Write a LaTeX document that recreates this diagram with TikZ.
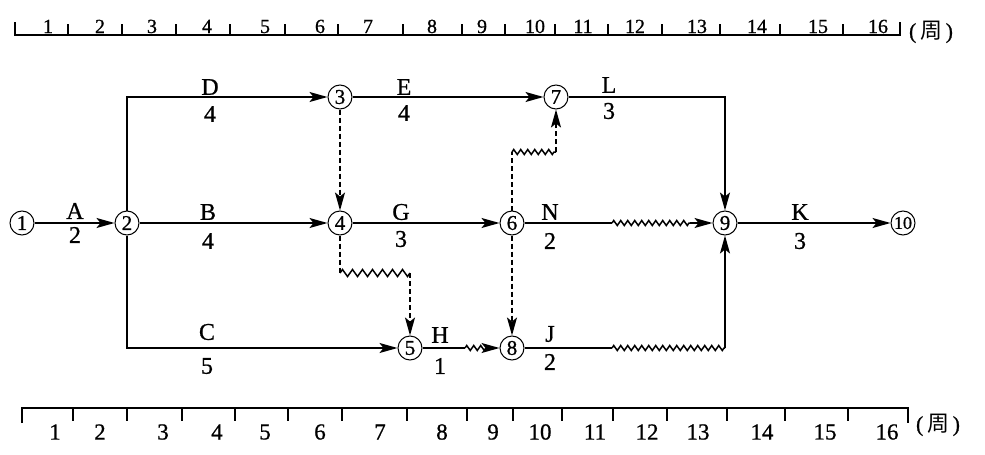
\documentclass[tikz,border=0pt]{standalone}
\usepackage{fontspec}
\setmainfont{Liberation Serif}[FakeBold=0.8]
\newfontfamily\cjk{Noto Sans CJK SC}
\usetikzlibrary{arrows.meta,decorations.pathmorphing}

\begin{document}
\begin{tikzpicture}[x=1pt,y=-1pt,line width=1.5pt,
  ev/.style={circle,draw,line width=1pt,minimum size=24pt,inner sep=0pt,
    font=\fontsize{21}{21}\selectfont},
  act/.style={-{Stealth[length=18pt,width=10pt,inset=4pt]}},
  dum/.style={dash pattern=on 5pt off 3pt},
  wave/.style={decorate,decoration={zigzag,segment length=7pt,amplitude=2.5pt}},
  lag/.style={decorate,decoration={zigzag,segment length=10pt,amplitude=3.5pt}},
  lab/.style={inner sep=0pt,font=\fontsize{24}{24}\selectfont},
  topnum/.style={inner sep=0pt,anchor=base,font=\fontsize{20}{20}\selectfont},
  botnum/.style={inner sep=0pt,font=\fontsize{23}{23}\selectfont},
  unit/.style={inner sep=0pt,font=\fontsize{22}{22}\selectfont},
  ruler/.style={line width=1.3pt}]
\useasboundingbox (0,0) rectangle (985,455);

% time scale above the network
\draw[ruler] (15,22) -- (15,35) -- (900,35) -- (900,22);
\foreach \x in {68,122,176,230,285,338,403,462,505,555,608,662,720,780,843}
  \draw[ruler] (\x,35) -- (\x,24);
\foreach \x [count=\i] in {48,100,152,207,265,320,368,432,482,535,583,635,697,757,818,878}
  \node[topnum] (t\i) at (\x,33) {\i};
\node[unit] (tu) at (931,32) {(\,{\cjk 周}\,)};

% time scale below the network
\draw[ruler] (22,423) -- (22,408) -- (908,408) -- (908,423);
\foreach \x in {73,127,182,235,288,342,407,467,513,562,613,667,727,785,848}
  \draw[ruler] (\x,408) -- (\x,421);
\foreach \x [count=\i] in {55,100,163,217,265,320,380,442,493,540,595,647,698,762,825,887}
  \node[botnum] (b\i) at (\x,432) {\i};
\node[unit] (bu) at (938,425) {(\,{\cjk 周}\,)};

% events
\node[ev] (n1) at (22,223) {1};
\node[ev] (n2) at (127,223) {2};
\node[ev] (n3) at (340,97) {3};
\node[ev] (n4) at (340,223) {4};
\node[ev] (n5) at (410,348) {5};
\node[ev] (n6) at (512,223) {6};
\node[ev] (n7) at (556,97) {7};
\node[ev] (n8) at (512,348) {8};
\node[ev] (n9) at (725,223) {9};
\node[ev,font=\fontsize{18}{18}\selectfont] (n10) at (903,223) {10};

% bends and free-float breaks
\coordinate (w1) at (340,273);
\coordinate (w2) at (410,273);
\coordinate (w3) at (512,152);
\coordinate (w4) at (556,152);
\coordinate (h1) at (465,348);
\coordinate (h2) at (487,348);
\coordinate (q1) at (612,223);
\coordinate (q2) at (690,223);
\coordinate (j1) at (612,348);
\coordinate (j2) at (725,348);

% activities
\draw[act] (n1) -- (n2);
\draw[act] (n2) |- (n3);
\draw[act] (n2) -- (n4);
\draw[act] (n2) |- (n5);
\draw[act] (n3) -- (n7);
\draw[act] (n4) -- (n6);
\draw[act] (n7) -| (n9);
\draw[act] (n9) -- (n10);
\draw (n5) -- (h1);
\draw[wave] (h1) -- (h2);
\draw[act] (h2) -- (n8);
\draw (n6) -- (q1);
\draw[wave] (q1) -- (q2);
\draw[act] (q2) -- (n9);
\draw (n8) -- (j1);
\draw[wave] (j1) -- (j2);
\draw[act] (j2) -- (n9);

% dummy activities
\draw[dum,act] (n3) -- (n4);
\draw[dum] (n4) -- (w1);
\draw[lag] (w1) -- (w2);
\draw[dum,act] (w2) -- (n5);
\draw[dum] (n6) -- (w3);
\draw[wave] (w3) -- (w4);
\draw[dum,act] (w4) -- (n7);
\draw[dum,act] (n6) -- (n8);

% activity names and durations
\node[lab] (lA) at (75,211) {A};   \node[lab] (dA) at (75,235) {2};
\node[lab] (lD) at (210,87) {D};   \node[lab] (dD) at (210,114) {4};
\node[lab] (lE) at (404,87) {E};   \node[lab] (dE) at (404,113) {4};
\node[lab] (lL) at (609,85) {L};   \node[lab] (dL) at (609,111) {3};
\node[lab] (lB) at (208,212) {B};  \node[lab] (dB) at (208,241) {4};
\node[lab] (lG) at (401,212) {G};  \node[lab] (dG) at (401,239) {3};
\node[lab] (lN) at (550,212) {N};  \node[lab] (dN) at (550,241) {2};
\node[lab] (lK) at (800,212) {K};  \node[lab] (dK) at (800,241) {3};
\node[lab] (lC) at (207,332) {C};  \node[lab] (dC) at (207,366) {5};
\node[lab] (lH) at (440,335) {H};  \node[lab] (dH) at (440,366) {1};
\node[lab] (lJ) at (550,334) {J};  \node[lab] (dJ) at (550,362) {2};
\end{tikzpicture}
\end{document}
